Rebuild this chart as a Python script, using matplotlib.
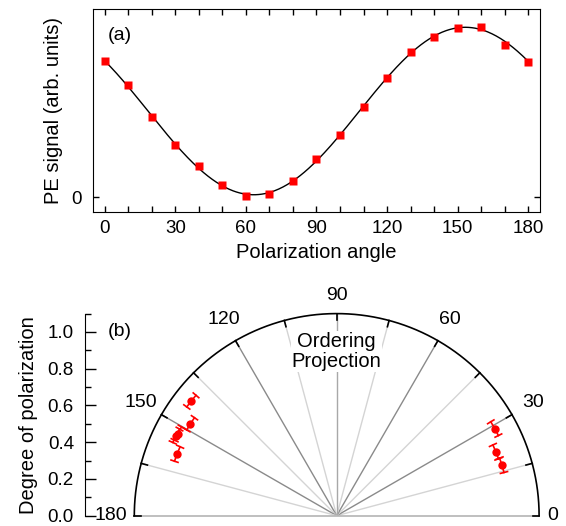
"""Polarization dependence of PE signal and polar plot of ordering projection."""

import numpy as np
import matplotlib.pyplot as plt
from matplotlib.ticker import MultipleLocator

plt.rcParams['font.family'] = ['Liberation Sans', 'DejaVu Sans']
plt.rcParams['font.size'] = 13.5

# panel (a): PE signal vs polarization angle
angle = [0, 10, 20, 30, 40, 50, 60, 70, 80, 90,
         100, 110, 120, 130, 140, 150, 160, 170, 180]
signal = [0.800, 0.656, 0.470, 0.307, 0.186, 0.070, 0.010, 0.020, 0.096,
          0.223, 0.364, 0.528, 0.701, 0.853, 0.941, 0.994, 1.000, 0.892,
          0.795]

# panel (b): ordering projection, angle (deg), degree of polarization
pol_angle = [141.7, 147.8, 152.6, 153.5, 158.8, 28.9, 21.9, 17.0]
pol_degree = [1.007, 0.939, 0.972, 0.976, 0.930, 0.981, 0.932, 0.939]
pol_err = [2.3, 2.4, 2.4, 2.4, 2.6, 2.5, 2.5, 2.5]
angle_labels = [0, 30, 60, 90, 120, 150, 180]


def main():
    fig = plt.figure(figsize=(5.66, 5.26), dpi=100)
    W, H = 566., 526.

    # --- panel (a) ---
    ax = fig.add_axes([93/W, 1-212/H, (540-93)/W, (212-9)/H])
    ax.plot(angle, signal, 's', color='red', ms=6, mec='none', zorder=3)

    # cos^2 fit of the measured points
    th = np.radians(angle)
    A = np.column_stack([np.ones_like(th), np.cos(2*th), np.sin(2*th)])
    coef = np.linalg.lstsq(A, np.array(signal), rcond=None)[0]
    tt = np.linspace(0, 180, 400)
    tr = np.radians(tt)
    ax.plot(tt, coef[0] + coef[1]*np.cos(2*tr) + coef[2]*np.sin(2*tr),
            color='k', lw=1)

    ax.set_xlim(-5.1, 185.1)
    ax.set_ylim(-0.086, 1.104)
    ax.xaxis.set_major_locator(MultipleLocator(30))
    ax.xaxis.set_minor_locator(MultipleLocator(10))
    ax.set_yticks([0])
    ax.tick_params(which='both', direction='in', top=True, right=True,
                   length=4, width=1)
    ax.tick_params(axis='x', pad=6)
    ax.tick_params(axis='y', pad=8)
    ax.set_xlabel('Polarization angle', fontsize=14.5, labelpad=4)
    ax.set_ylabel('PE signal (arb. units)', fontsize=14.5, labelpad=6)
    ax.text(6.1, 0.95, '(a)', fontsize=14, ha='center', va='center')

    # --- panel (b) ---
    cx = 336.7
    scale = 184.
    bx = fig.add_axes([85/W, 1-515.7/H, (560-85)/W, (515.7-313.6)/H])
    bx.set_xlim((85-cx)/scale, (560-cx)/scale)
    bx.set_ylim(0, 1.1)
    for s in ['top', 'right', 'bottom']:
        bx.spines[s].set_visible(False)
    bx.set_xticks([])
    bx.yaxis.set_major_locator(MultipleLocator(0.2))
    bx.yaxis.set_minor_locator(MultipleLocator(0.1))
    bx.set_yticks(np.arange(0, 1.01, 0.2))
    bx.set_yticklabels(['%.1f' % v for v in np.arange(0, 1.01, 0.2)])
    bx.tick_params(which='major', direction='in', length=8, width=1, pad=8)
    bx.tick_params(which='minor', direction='in', length=4, width=1)
    bx.set_ylabel('Degree of polarization', fontsize=14.5, labelpad=7)

    R = 1.1
    # radial grid lines
    for a in range(15, 180, 15):
        r = np.radians(a)
        if a == 90:
            c = '#a8a8a8'
        elif a % 30 == 0:
            c = '#8a8a8a'
        else:
            c = '#d4d4d4'
        bx.plot([0, R*np.cos(r)], [0, R*np.sin(r)], color=c, lw=1, zorder=1)
    bx.plot([-R, R], [0, 0], color='#b4b4b4', lw=1.2, zorder=1,
            clip_on=False)
    # outer arc and ticks
    t = np.radians(np.linspace(0, 180, 300))
    bx.plot(R*np.cos(t), R*np.sin(t), color='k', lw=1.2, clip_on=False)
    for a in range(0, 181, 15):
        r = np.radians(a)
        bx.plot([R*np.cos(r), (R-0.035)*np.cos(r)],
                [R*np.sin(r), (R-0.035)*np.sin(r)], color='k', lw=1.2,
                clip_on=False)
    for a in angle_labels:
        r = np.radians(a)
        rl = {0: 1.175, 90: 1.2, 180: 1.23}.get(a, 1.23)
        bx.text(rl*np.cos(r), rl*np.sin(r), str(a), ha='center',
                va='center', fontsize=14, clip_on=False)

    # data with angular error bars
    for a, d, e in zip(pol_angle, pol_degree, pol_err):
        ta = np.radians(np.linspace(a-e, a+e, 20))
        bx.plot(d*np.cos(ta), d*np.sin(ta), color='red', lw=1.2, zorder=3)
        for ee in (a-e, a+e):
            r = np.radians(ee)
            bx.plot([(d-0.02)*np.cos(r), (d+0.02)*np.cos(r)],
                    [(d-0.02)*np.sin(r), (d+0.02)*np.sin(r)],
                    color='red', lw=1.2, zorder=3)
    pa = np.radians(pol_angle)
    bx.plot(np.array(pol_degree)*np.cos(pa), np.array(pol_degree)*np.sin(pa),
            'o', color='red', ms=6, mec='none', zorder=4)

    bx.text(0, 0.895, 'Ordering\nProjection', ha='center', va='center',
            fontsize=14.5, linespacing=1.1,
            bbox=dict(facecolor='white', edgecolor='none', pad=0.5))
    bx.text(-1.18, 1.0, '(b)', ha='center', va='center', fontsize=14)

    fig.savefig('out.png', dpi=100)


if __name__ == '__main__':
    main()
